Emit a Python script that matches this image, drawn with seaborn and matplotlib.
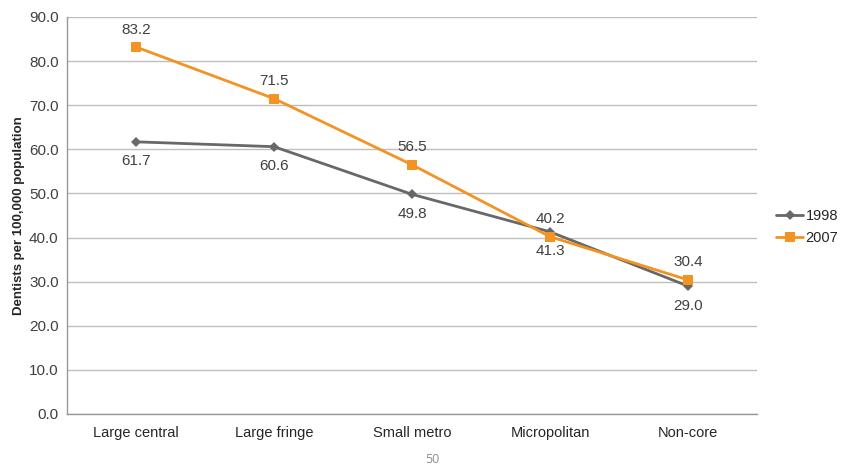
import pandas as pd
import matplotlib.pyplot as plt
from matplotlib.lines import Line2D
import seaborn as sns

# chart data
categories = ["Large central", "Large fringe", "Small metro", "Micropolitan", "Non-core"]
values_1998 = [61.7, 60.6, 49.8, 41.3, 29.0]
values_2007 = [83.2, 71.5, 56.5, 40.2, 30.4]
years = ["1998", "2007"]

GRAY = "#686868"
ORANGE = "#F39322"
TEXT = "#404040"

sns.set_style("white")
plt.rcParams["font.family"] = ["Liberation Sans", "DejaVu Sans"]

df = pd.DataFrame({
    "category": categories * 2,
    "value": values_1998 + values_2007,
    "year": [years[0]] * len(categories) + [years[1]] * len(categories),
})
df["pos"] = list(range(len(categories))) * 2

fig = plt.figure(figsize=(8.43, 4.68), dpi=100)
ax = fig.add_axes([0.0795, 0.1154, 0.8185, 0.8483])

sns.lineplot(
    data=df, x="pos", y="value", hue="year", style="year",
    palette={"1998": GRAY, "2007": ORANGE},
    markers={"1998": "D", "2007": "s"}, dashes=False,
    markersize=7, linewidth=2, markeredgewidth=0, ax=ax, legend=False,
)
# smaller diamonds for 1998
for line in ax.lines:
    if str(line.get_color()).lower() == GRAY.lower():
        line.set_markersize(5)

# data labels: 1998 below, 2007 above
for i, (a, b) in enumerate(zip(values_1998, values_2007)):
    ax.annotate(f"{a:.1f}", (i, a), xytext=(0, -9), textcoords="offset points",
                ha="center", va="top", fontsize=11, color=TEXT)
    ax.annotate(f"{b:.1f}", (i, b), xytext=(0, 7.5), textcoords="offset points",
                ha="center", va="bottom", fontsize=11, color=TEXT)

ax.set_xlim(-0.5, len(categories) - 0.5)
ax.set_ylim(0, 90)
ax.set_yticks([i * 10 for i in range(10)])
ax.set_yticklabels([f"{i * 10:.1f}" for i in range(10)], fontsize=11, color=TEXT)
ax.set_xticks(range(len(categories)))
ax.set_xticklabels(categories, fontsize=10.5, color="#262626")
ax.set_xticks([i - 0.5 for i in range(len(categories) + 1)], minor=True)
ax.tick_params(axis="x", which="major", length=0, pad=9)
ax.tick_params(axis="x", which="minor", length=4, color="#999999", direction="out")
ax.tick_params(axis="y", length=4, color="#999999", direction="out", pad=2)
ax.set_xlabel("")
ax.set_ylabel("Dentists per 100,000 population", fontsize=9.5, fontweight="bold",
              color="#262626", labelpad=3)

ax.grid(axis="y", color="#BEBEBE", linewidth=1)
ax.set_axisbelow(True)
for side in ["top", "right"]:
    ax.spines[side].set_visible(False)
for side in ["left", "bottom"]:
    ax.spines[side].set_color("#999999")
    ax.spines[side].set_linewidth(1)

# legend outside right
handles = [
    Line2D([], [], color=GRAY, marker="D", markersize=5, linewidth=2, markeredgewidth=0),
    Line2D([], [], color=ORANGE, marker="s", markersize=7, linewidth=2, markeredgewidth=0),
]
fig.legend(handles, years, loc="center left", bbox_to_anchor=(0.921, 0.515),
           frameon=False, fontsize=10.5, handlelength=1.85, handletextpad=0.15,
           labelspacing=0.5, borderpad=0, borderaxespad=0)

fig.text(0.5125, 0.004, "50", ha="center", va="bottom", fontsize=9, color="#8C8C8C",
         family=["Open Sans", "DejaVu Sans"])

plt.savefig("out.png", dpi=100)
plt.close()
